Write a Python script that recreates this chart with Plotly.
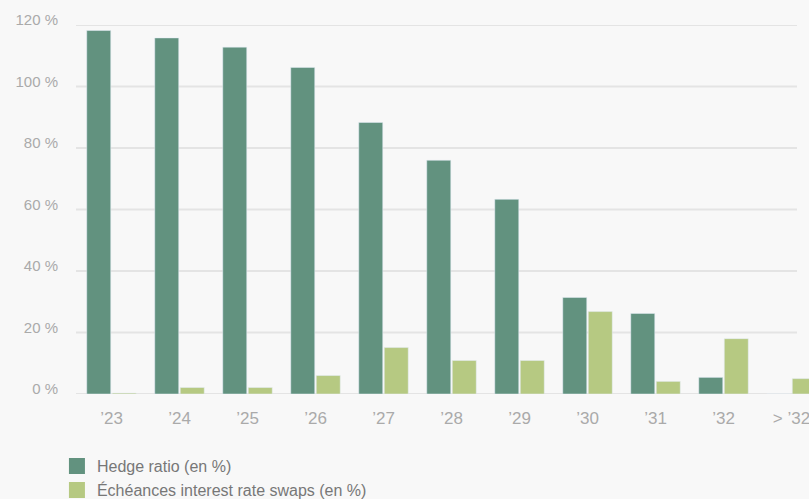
import plotly.graph_objects as go

categories = ["’23", "’24", "’25", "’26", "’27", "’28", "’29", "’30", "’31", "’32", "> ’32"]
hedge_ratio = [118.2, 115.8, 112.8, 106.2, 88.3, 76.0, 63.3, 31.4, 26.2, 5.4, 0]
swap_maturities = [0.3, 2.1, 2.1, 6.0, 15.1, 10.9, 10.9, 26.8, 4.1, 18.0, 5.0]
y_ticks = [0, 20, 40, 60, 80, 100, 120]
y_tick_labels = [f"{v} %" for v in y_ticks]
series_names = ["Hedge ratio (en %)", "Échéances interest rate swaps (en %)"]

c_hedge = "#62927f"
c_swap = "#b6c982"
grid_col = "#e4e4e4"

fig = go.Figure()
fig.add_trace(go.Bar(x=categories, y=hedge_ratio, marker_color=c_hedge,
                     name=series_names[0], showlegend=False))
fig.add_trace(go.Bar(x=categories, y=swap_maturities, marker_color=c_swap,
                     name=series_names[1], showlegend=False))
# legend keys
for nm, col in zip(series_names, [c_hedge, c_swap]):
    fig.add_trace(go.Scatter(x=[None], y=[None], mode="markers", name=nm,
                             marker=dict(symbol="square", size=16, color=col)))

# gridlines (end slightly before the right edge, as in the original)
for v in y_ticks:
    fig.add_shape(type="line", xref="paper", yref="y", x0=0, x1=0.9836, y0=v, y1=v,
                  line=dict(color=grid_col, width=1.8), layer="below")

fig.update_layout(
    width=809, height=499,
    margin=dict(l=76, r=0, t=25, b=104.5, autoexpand=False),
    paper_bgcolor="#f8f8f8", plot_bgcolor="#f8f8f8",
    barmode="group", bargap=0.25, bargroupgap=0.06,
    font=dict(family="Liberation Sans, Arial, sans-serif", color="#aaaaaa"),
    legend=dict(orientation="v", x=-0.026, xanchor="left", y=-0.1496, yanchor="top",
                font=dict(size=16, color="#777777"), bgcolor="rgba(0,0,0,0)",
                tracegroupgap=0),
)
fig.update_xaxes(
    type="category", range=[-0.522, 10.257], showgrid=False, showline=False,
    zeroline=False, tickfont=dict(size=17, color="#aaaaaa"), automargin=False,
    ticks="outside", ticklen=9, tickcolor="rgba(0,0,0,0)",
)
fig.update_yaxes(
    range=[0, 120], tickvals=y_ticks, ticktext=y_tick_labels,
    showgrid=False, zeroline=False,
    showline=False, tickfont=dict(size=15, color="#aaaaaa"), automargin=False,
    ticks="outside", ticklen=14, tickcolor="rgba(0,0,0,0)",
    ticklabelshift=-5,
)

fig.write_html("out.html", config={"displayModeBar": False},
               post_script="document.body.style.margin='0';document.body.style.background='#f8f8f8';")
